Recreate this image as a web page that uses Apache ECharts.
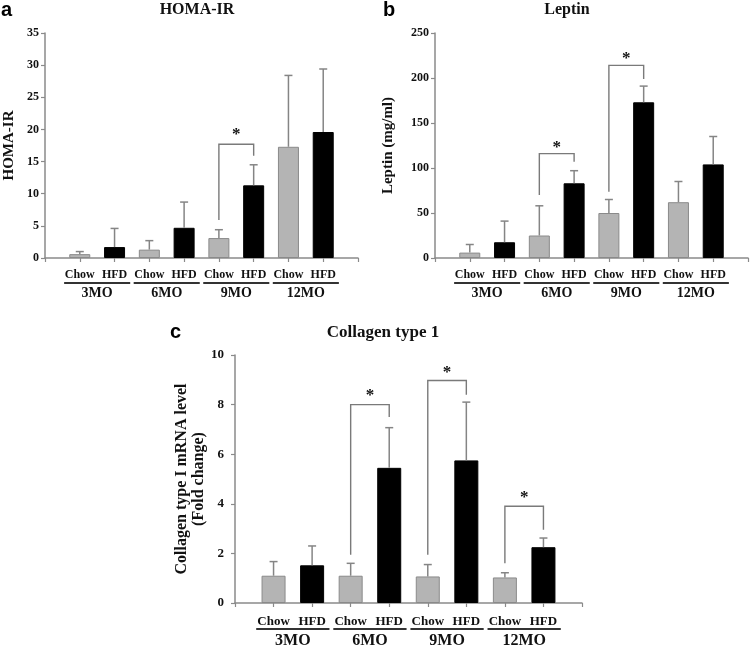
<!DOCTYPE html>
<html>
<head>
<meta charset="utf-8">
<script src="https://cdn.jsdelivr.net/npm/echarts@6/dist/echarts.min.js"></script>
<style>html,body{margin:0;padding:0;background:#fff}#c{width:752px;height:648px}</style>
</head>
<body>
<div id="c"></div>
<script>
// ---- data ----
const ages = ['3MO', '6MO', '9MO', '12MO'];
const diets = ['Chow', 'HFD'];

// a: HOMA-IR (mean, upper end of error bar)
const homaChow = [0.6, 1.3, 3.1, 17.3];
const homaChowErr = [1.0, 2.7, 4.4, 28.4];
const homaHfd = [1.7, 4.7, 11.3, 19.6];
const homaHfdErr = [4.6, 8.7, 14.5, 29.4];
// bracket: [age index, left foot, right foot, top, star]
const homaBrackets = [[2, 5.9, 15.9, 17.7, 19.2]];
const homaTicks = [0, 35, 5];

// b: Leptin
const leptinChow = [6, 25, 50, 62];
const leptinChowErr = [15, 58, 65, 85];
const leptinHfd = [17.5, 83, 173, 104];
const leptinHfdErr = [41, 97, 191, 135];
const leptinBrackets = [[1, 70, 107, 116, 123], [2, 73.5, 199, 214, 222]];
const leptinTicks = [0, 250, 50];

// c: Collagen type 1
const colChow = [1.1, 1.1, 1.07, 1.03];
const colChowErr = [1.67, 1.6, 1.55, 1.22];
const colHfd = [1.52, 5.45, 5.75, 2.25];
const colHfdErr = [2.3, 7.07, 8.1, 2.62];
const colBrackets = [[1, 1.95, 7.5, 8.0, 8.35], [2, 1.95, 8.4, 8.97, 9.3], [3, 1.6, 2.95, 3.9, 4.25]];
const colTicks = [0, 10, 2];

// ---- styles / layout ----
const SERIF = '"Liberation Serif", "DejaVu Serif", serif';
const AXIS = '#8a8a8a';
const panels = [
  { grid: {left: 43, top: 33, width: 315, height: 225}, ticks: homaTicks,
    chow: homaChow, chowErr: homaChowErr, hfd: homaHfd, hfdErr: homaHfdErr, br: homaBrackets,
    yName: 'HOMA-IR', nameGap: 27, nameSize: 15, nameLH: 17, tickSize: 12, tickMargin: 6,
    xSize: 12, groupSize: 14, barW: 21, underOff: 25, groupOff: 35, xMargin: 11 },
  { grid: {left: 435, top: 33, width: 313, height: 225}, ticks: leptinTicks,
    chow: leptinChow, chowErr: leptinChowErr, hfd: leptinHfd, hfdErr: leptinHfdErr, br: leptinBrackets,
    yName: 'Leptin (mg/ml)', nameGap: 38, nameSize: 15, nameLH: 17, tickSize: 12, tickMargin: 6,
    xSize: 12, groupSize: 14, barW: 21, underOff: 25, groupOff: 35, xMargin: 11 },
  { grid: {left: 235, top: 355, width: 347, height: 248}, ticks: colTicks,
    chow: colChow, chowErr: colChowErr, hfd: colHfd, hfdErr: colHfdErr, br: colBrackets,
    yName: 'Collagen type I mRNA level\n(Fold change)', nameGap: 19, nameSize: 16, nameLH: 17, tickSize: 13, tickMargin: 11,
    xSize: 13, groupSize: 16, barW: 24, underOff: 26, groupOff: 38, xMargin: 12 }
];

const grid = [], xAxis = [], yAxis = [], series = [];
panels.forEach((p, i) => {
  grid.push(Object.assign({containLabel: false}, p.grid));
  xAxis.push({
    gridIndex: i, type: 'value', min: 0, max: 9, interval: 1,
    axisLine: {show: true, lineStyle: {color: AXIS, width: 1.5}},
    axisTick: {show: true, length: 4, lineStyle: {color: AXIS, width: 1.2}},
    splitLine: {show: false},
    axisLabel: {
      margin: p.xMargin, color: '#111', fontFamily: SERIF, fontWeight: 'bold', fontSize: p.xSize,
      formatter: v => (v >= 1 && v <= ages.length * 2) ? diets[(v - 1) % 2] : ''
    }
  });
  yAxis.push({
    gridIndex: i, type: 'value', min: p.ticks[0], max: p.ticks[1], interval: p.ticks[2],
    axisLine: {show: true, lineStyle: {color: AXIS, width: 1.5}},
    axisTick: {show: true, length: 4, lineStyle: {color: AXIS, width: 1.2}},
    splitLine: {show: false},
    axisLabel: {margin: p.tickMargin, color: '#111', fontFamily: SERIF, fontWeight: 'bold', fontSize: p.tickSize},
    name: p.yName, nameLocation: 'middle', nameRotate: 90, nameGap: p.nameGap,
    nameTextStyle: {color: '#111', fontFamily: SERIF, fontWeight: 'bold', fontSize: p.nameSize, lineHeight: p.nameLH}
  });
  series.push({
    type: 'bar', xAxisIndex: i, yAxisIndex: i, barWidth: p.barW, barGap: '-100%',
    itemStyle: {color: '#b4b4b4', borderColor: '#8a8a8a', borderWidth: 1},
    data: p.chow.map((v, g) => [2 * g + 1, v])
  });
  series.push({
    type: 'bar', xAxisIndex: i, yAxisIndex: i, barWidth: p.barW, barGap: '-100%',
    itemStyle: {color: '#000', borderColor: '#000', borderWidth: 1},
    data: p.hfd.map((v, g) => [2 * g + 2, v])
  });
  // error bars
  const errData = [];
  p.chow.forEach((v, g) => errData.push([2 * g + 1, v, p.chowErr[g]]));
  p.hfd.forEach((v, g) => errData.push([2 * g + 2, v, p.hfdErr[g]]));
  series.push({
    type: 'custom', xAxisIndex: i, yAxisIndex: i, clip: false, z: 5,
    data: errData,
    renderItem: (params, api) => {
      const a = api.coord([api.value(0), api.value(1)]);
      const b = api.coord([api.value(0), api.value(2)]);
      const st = {stroke: '#858585', lineWidth: 1.5};
      return {type: 'group', children: [
        {type: 'line', shape: {x1: a[0], y1: a[1], x2: b[0], y2: b[1]}, style: st},
        {type: 'line', shape: {x1: b[0] - 4, y1: b[1], x2: b[0] + 4, y2: b[1]}, style: st}
      ]};
    }
  });
  // significance brackets
  series.push({
    type: 'custom', xAxisIndex: i, yAxisIndex: i, clip: false, z: 5,
    data: p.br,
    renderItem: (params, api) => {
      const g = api.value(0);
      const xl = 2 * g + 1, xr = 2 * g + 2;
      const p1 = api.coord([xl, api.value(1)]);
      const p2 = api.coord([xl, api.value(3)]);
      const p3 = api.coord([xr, api.value(3)]);
      const p4 = api.coord([xr, api.value(2)]);
      const s = api.coord([(xl + xr) / 2, api.value(4)]);
      return {type: 'group', children: [
        {type: 'polyline', shape: {points: [p1, p2, p3, p4]}, style: {stroke: '#7a7a7a', lineWidth: 1.4, fill: null}},
        {type: 'text', style: {text: '*', x: s[0], y: s[1], align: 'center', verticalAlign: 'middle',
          font: 'bold 17px ' + SERIF, fill: '#111'}}
      ]};
    }
  });
  // group labels with underlines
  series.push({
    type: 'custom', xAxisIndex: i, yAxisIndex: i, clip: false, z: 5,
    data: ages.map((a, g) => [2 * g + 1.5]),
    renderItem: (params, api) => {
      const cx = api.value(0);
      const c = api.coord([cx, 0]);
      const l = api.coord([cx - 0.95, 0]);
      const r = api.coord([cx + 0.95, 0]);
      return {type: 'group', children: [
        {type: 'line', shape: {x1: l[0], y1: c[1] + p.underOff, x2: r[0], y2: c[1] + p.underOff},
          style: {stroke: '#333', lineWidth: 2}},
        {type: 'text', style: {text: ages[params.dataIndex], x: c[0], y: c[1] + p.groupOff,
          align: 'center', verticalAlign: 'middle', font: 'bold ' + p.groupSize + 'px ' + SERIF, fill: '#111'}}
      ]};
    }
  });
});

const titleFont = 'bold 16px ' + SERIF;
const letterFont = 'bold 20px "Liberation Sans", Arial, sans-serif';
const graphic = [
  {type: 'text', left: 1, top: 0, style: {text: 'a', font: letterFont, fill: '#000'}},
  {type: 'text', left: 383, top: 0, style: {text: 'b', font: letterFont, fill: '#000'}},
  {type: 'text', left: 170, top: 322, style: {text: 'c', font: letterFont, fill: '#000'}},
  {type: 'text', x: 197, y: 10, style: {text: 'HOMA-IR', font: titleFont, fill: '#111', align: 'center', verticalAlign: 'middle'}},
  {type: 'text', x: 567, y: 10, style: {text: 'Leptin', font: titleFont, fill: '#111', align: 'center', verticalAlign: 'middle'}},
  {type: 'text', x: 383, y: 333, style: {text: 'Collagen type 1', font: 'bold 17px ' + SERIF, fill: '#111', align: 'center', verticalAlign: 'middle'}}
];

const chart = echarts.init(document.getElementById('c'), null, {renderer: 'canvas'});
chart.setOption({animation: false, backgroundColor: '#fff', grid, xAxis, yAxis, series, graphic});
</script>
</body>
</html>
